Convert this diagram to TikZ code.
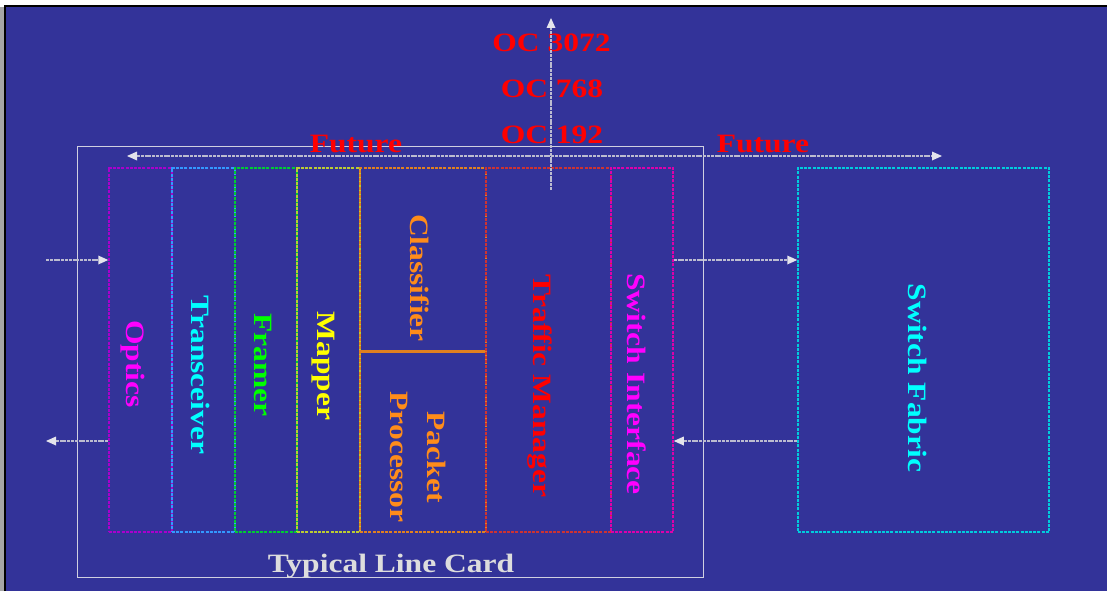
\documentclass[tikz,border=0pt]{standalone}
\usepackage{fontspec}
\setmainfont{Liberation Serif}
\usetikzlibrary{arrows.meta}
\definecolor{bg}{HTML}{333399}
\definecolor{cardline}{HTML}{D0D0E0}
\definecolor{cardtext}{HTML}{DDDDDD}
\definecolor{arr}{HTML}{BCBCD0}
\definecolor{arrhead}{HTML}{E4E4EC}
\definecolor{cOptics}{HTML}{AA00CC}
\definecolor{cTrans}{HTML}{3399FF}
\definecolor{cFramer}{HTML}{00CC33}
\definecolor{cMapper}{HTML}{BBCC33}
\definecolor{cClass}{HTML}{E08020}
\definecolor{cTraffic}{HTML}{CC3333}
\definecolor{cSwif}{HTML}{DD00AA}
\definecolor{cFabric}{HTML}{00CCDD}
\definecolor{tOrange}{HTML}{FF8C1A}
\definecolor{tMagenta}{HTML}{FF00FF}
\definecolor{tCyan}{HTML}{00FFFF}
\definecolor{tGreen}{HTML}{00FF00}
\definecolor{tYellow}{HTML}{FFFF00}
\definecolor{tRed}{HTML}{FF0000}
\newcommand{\stretchtxt}[1]{\scalebox{1.19}[1]{#1}}
\tikzset{
  blk/.style={draw=#1, line width=1.5pt, dash pattern=on 3pt off 1.2pt, inner sep=0pt},
  lbl/.style={inner sep=0pt, text=#1, font=\fontsize{26.5}{37}\selectfont\bfseries},
  vlbl/.style={lbl=#1, rotate=-90, anchor=base},
  flow/.style={draw=arr, line width=2pt, dash pattern=on 3pt off 0.8pt,
    -{Triangle[length=10pt,width=9pt,fill=arrhead,line width=0pt]}},
  flow2/.style={draw=arr, line width=2pt, dash pattern=on 3pt off 0.8pt,
    {Triangle[length=10pt,width=9pt,fill=arrhead,line width=0pt]}-{Triangle[length=10pt,width=9pt,fill=arrhead,line width=0pt]}}
}
\begin{document}
\begin{tikzpicture}[x=1pt,y=-1pt]
\useasboundingbox (0,0) rectangle (1107,591);
\fill[white] (0,0) rectangle (1107,591);
\fill[black!35] (0,7) rectangle (4,591);
\fill[bg] (5,7) rectangle (1107,591);
\draw[black, line width=2pt] (5,591) -- (5,6) -- (1107,6);

% line card outline
\node[draw=cardline, line width=1pt, minimum width=626pt, minimum height=431pt, inner sep=0pt] (card) at (390,361.5) {};
\node[lbl=cardtext, anchor=base] (cardlbl) at (391,572) {\stretchtxt{Typical Line Card}};

% blocks
\node[blk=cOptics, minimum width=63pt, minimum height=364pt] (optics) at (140.5,350) {};
\node[blk=cTrans, minimum width=63pt, minimum height=364pt] (trans) at (203.5,350) {};
\node[blk=cFramer, minimum width=62pt, minimum height=364pt] (framer) at (266,350) {};
\node[blk=cMapper, minimum width=63pt, minimum height=364pt] (mapper) at (328.5,350) {};
\node[blk=cClass, minimum width=126pt, minimum height=183pt] (classif) at (423,259.5) {};
\node[blk=cClass, minimum width=126pt, minimum height=181pt] (packet) at (423,441.5) {};
\draw[cClass, line width=1.6pt] (classif.south west) -- (classif.south east);
\node[blk=cTraffic, minimum width=125pt, minimum height=364pt] (traffic) at (548.5,350) {};
\node[blk=cSwif, minimum width=62pt, minimum height=364pt] (swif) at (642,350) {};
\node[blk=cFabric, minimum width=251pt, minimum height=364pt] (fabric) at (923.5,350) {};

% block labels
\node[vlbl=tMagenta] (lOptics) at (126,364) {\stretchtxt{Optics}};
\node[vlbl=tCyan] (lTrans) at (191,375) {\stretchtxt{Transceiver}};
\node[vlbl=tGreen] (lFramer) at (254,365) {\stretchtxt{Framer}};
\node[vlbl=tYellow] (lMapper) at (317,366) {\stretchtxt{Mapper}};
\node[vlbl=tOrange] (lClass) at (410,278) {\stretchtxt{Classifier}};
\node[lbl=tOrange, rotate=-90, align=center, anchor=center] (lPacket) at (418.5,457) {\stretchtxt{Packet}\\\stretchtxt{Processor}};
\node[vlbl=tRed] (lTraffic) at (533,386) {\stretchtxt{Traffic Manager}};
\node[vlbl=tMagenta] (lSwif) at (627,384) {\stretchtxt{Switch Interface}};
\node[vlbl=tCyan] (lFabric) at (908,378) {\stretchtxt{Switch Fabric}};

% rates and future
\node[lbl=tRed, anchor=base] (oc3072) at (551.5,52) {\stretchtxt{OC 3072}};
\node[lbl=tRed, anchor=base] (oc768) at (552,98) {\stretchtxt{OC 768}};
\node[lbl=tRed, anchor=base] (oc192) at (552,143) {\stretchtxt{OC 192}};
\node[lbl=tRed, anchor=base] (futL) at (356,152) {\stretchtxt{Future}};
\node[lbl=tRed, anchor=base] (futR) at (763,152) {\stretchtxt{Future}};

% connectors
\coordinate (inA) at (46,260);
\coordinate (outA) at (46,441);
\coordinate (futStart) at (127,156);
\coordinate (futEnd) at (942,156);
\coordinate (upStart) at (551,190);
\coordinate (upEnd) at (551,18);
\draw[flow] (inA) -- (optics.west |- inA);
\draw[flow] (optics.west |- outA) -- (outA);
\draw[flow] (swif.east |- inA) -- (fabric.west |- inA);
\draw[flow] (fabric.west |- outA) -- (swif.east |- outA);
\draw[flow2] (futStart) -- (futEnd);
\draw[flow] (upStart) -- (upEnd);
\end{tikzpicture}
\end{document}
